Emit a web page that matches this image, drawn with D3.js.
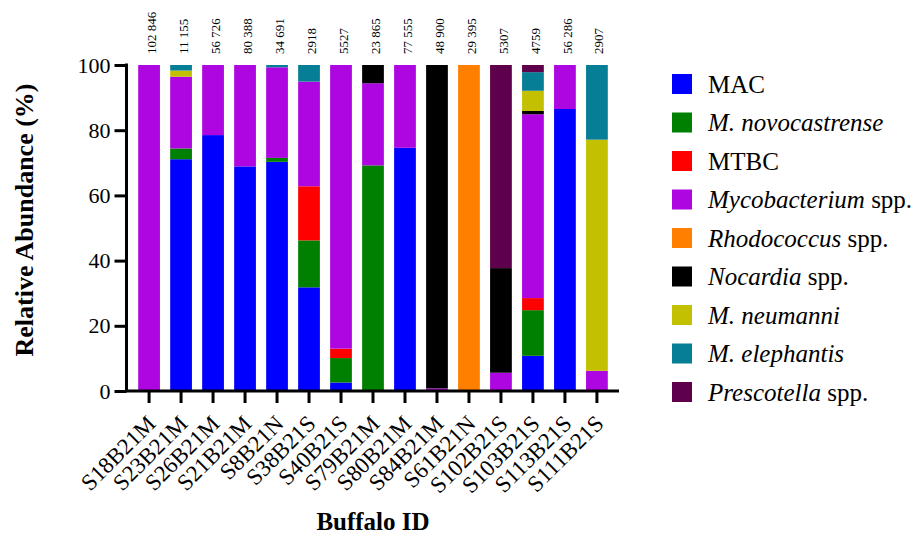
<!DOCTYPE html>
<html>
<head>
<meta charset="utf-8">
<script src="https://cdn.jsdelivr.net/npm/d3@7"></script>
<style>
  html, body { margin: 0; padding: 0; background: #fff; }
  svg { display: block; }
</style>
</head>
<body>
<svg id="chart" width="919" height="539" font-family="Liberation Serif"></svg>
<script>
const categories = ["S18B21M","S23B21M","S26B21M","S21B21M","S8B21N","S38B21S","S40B21S","S79B21M","S80B21M","S84B21M","S61B21N","S102B21S","S103B21S","S113B21S","S111B21S"];
const readCounts = ["102 846","11 155","56 726","80 388","34 691","2918","5527","23 865","77 555","48 900","29 395","5307","4759","56 286","2907"];
const yTicks = [0, 20, 40, 60, 80, 100];

const MAC         = [0, 71.1, 78.5, 68.9, 70.3, 31.8, 2.6, 0, 74.6, 0, 0, 0, 10.8, 86.5, 0];
const novocastr   = [0, 3.3, 0, 0, 1.2, 14.4, 7.5, 69.2, 0, 0, 0, 0, 14.0, 0, 0];
const MTBC        = [0, 0, 0, 0, 0, 16.6, 2.9, 0, 0, 0, 0, 0, 3.7, 0, 0];
const mycoSpp     = [100, 22.0, 21.5, 31.1, 27.8, 32.1, 87.0, 25.2, 25.4, 0.8, 0, 5.6, 56.4, 13.5, 6.2];
const rhodoSpp    = [0, 0, 0, 0, 0, 0, 0, 0, 0, 0, 100, 0, 0, 0, 0];
const nocardiaSpp = [0, 0, 0, 0, 0, 0, 0, 5.6, 0, 99.2, 0, 32.1, 1.0, 0, 0];
const neumanni    = [0, 1.9, 0, 0, 0, 0, 0, 0, 0, 0, 0, 0, 6.2, 0, 70.9];
const elephantis  = [0, 1.7, 0, 0, 0.7, 5.1, 0, 0, 0, 0, 0, 0, 5.7, 0, 22.9];
const prescotella = [0, 0, 0, 0, 0, 0, 0, 0, 0, 0, 0, 62.3, 2.2, 0, 0];

const seriesDefs = [
  {key: "MAC", values: MAC, color: "#0000FF", label: [["MAC", false]]},
  {key: "novo", values: novocastr, color: "#008000", label: [["M. novocastrense", true]]},
  {key: "MTBC", values: MTBC, color: "#FF0000", label: [["MTBC", false]]},
  {key: "myco", values: mycoSpp, color: "#AE06E0", label: [["Mycobacterium", true], [" spp.", false]]},
  {key: "rhodo", values: rhodoSpp, color: "#FF8000", label: [["Rhodococcus", true], [" spp.", false]]},
  {key: "nocardia", values: nocardiaSpp, color: "#000000", label: [["Nocardia", true], [" spp.", false]]},
  {key: "neumanni", values: neumanni, color: "#C2C000", label: [["M. neumanni", true]]},
  {key: "eleph", values: elephantis, color: "#067E96", label: [["M. elephantis", true]]},
  {key: "presc", values: prescotella, color: "#5E004C", label: [["Prescotella", true], [" spp.", false]]}
];

const FONT = "Liberation Serif";

const table = categories.map((c, i) => {
  const row = {cat: c};
  seriesDefs.forEach(s => row[s.key] = s.values[i]);
  return row;
});
const stacked = d3.stack().keys(seriesDefs.map(s => s.key))(table);

const svg = d3.select("#chart");
const x = d3.scaleBand().domain(categories).range([127, 619]).paddingInner(0.32).paddingOuter(0.35);
const y = d3.scaleLinear().domain([0, 100]).range([391, 65]);

// bars
svg.append("g").selectAll("g").data(stacked).join("g")
  .attr("fill", (d, i) => seriesDefs[i].color)
  .selectAll("rect").data(d => d.filter(p => p[1] - p[0] > 0)).join("rect")
  .attr("x", d => x(d.data.cat))
  .attr("width", x.bandwidth())
  .attr("y", d => y(d[1]))
  .attr("height", d => y(d[0]) - y(d[1]));

// top read counts
svg.append("g").selectAll("text").data(categories).join("text")
  .attr("transform", (c) => `translate(${x(c) + x.bandwidth() / 2 + 2},54) rotate(-90)`)
  .attr("dy", "0.35em")
  .attr("font-family", FONT)
  .attr("font-size", 13)
  .attr("fill", "#000")
  .text((c, i) => readCounts[i]);

// y axis
const yAxis = svg.append("g").attr("transform", "translate(126.5,0)")
  .call(d3.axisLeft(y).tickValues(yTicks).tickSize(12).tickSizeOuter(0).tickPadding(4));
yAxis.attr("font-family", FONT);
yAxis.select(".domain").attr("stroke-width", 3).attr("d", `M0,${y(100)-1.5}V${y(0)}`);
yAxis.selectAll(".tick line").attr("stroke-width", 3);
yAxis.selectAll(".tick text").attr("font-size", 22).attr("font-family", FONT).attr("fill", "#000");

// x axis
const xAxis = svg.append("g").attr("transform", "translate(0,391)")
  .call(d3.axisBottom(x).tickSize(12).tickSizeOuter(0).tickPadding(4));
xAxis.attr("font-family", FONT);
xAxis.select(".domain").attr("stroke-width", 3).attr("d", "M125,0H619");
xAxis.selectAll(".tick line").attr("stroke-width", 3);
xAxis.selectAll(".tick text")
  .attr("font-size", 23).attr("font-family", FONT).attr("fill", "#000")
  .attr("text-anchor", "end")
  .attr("dy", null)
  .attr("transform", "translate(8,34) rotate(-45)")
  .attr("y", 0).attr("x", 0);

// axis titles
svg.append("text")
  .attr("transform", "translate(33,220) rotate(-90)")
  .attr("text-anchor", "middle")
  .attr("font-family", FONT)
  .attr("font-size", 26).attr("font-weight", "bold")
  .text("Relative Abundance (%)");
svg.append("text")
  .attr("x", 373).attr("y", 530)
  .attr("text-anchor", "middle")
  .attr("font-family", FONT)
  .attr("font-size", 25).attr("font-weight", "bold")
  .text("Buffalo ID");

// legend
const leg = svg.append("g");
seriesDefs.forEach((s, i) => {
  const yy = 74 + i * 38.5;
  leg.append("rect").attr("x", 672).attr("y", yy).attr("width", 20).attr("height", 20).attr("fill", s.color);
  const t = leg.append("text").attr("x", 708).attr("y", yy + 18.5)
    .attr("font-family", FONT).attr("font-size", 25).attr("fill", "#000");
  s.label.forEach(([txt, it]) => {
    t.append("tspan").attr("font-style", it ? "italic" : "normal").text(txt);
  });
});
</script>
</body>
</html>
